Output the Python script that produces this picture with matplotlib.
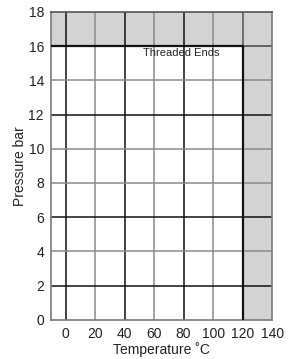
import matplotlib
matplotlib.use('Agg')
import matplotlib.pyplot as plt

plt.rcParams['font.family'] = ['Liberation Sans', 'DejaVu Sans']

# chart data
x_ticks = [0, 20, 40, 60, 80, 100, 120, 140]
y_ticks = [0, 2, 4, 6, 8, 10, 12, 14, 16, 18]
x_limit = 120      # max temperature
y_limit = 16       # max pressure
x_range = (-10, 140)
y_range = (0, 18)
region_label = 'Threaded Ends'

# grid line colours as they appear in the print
x_grid_colors = {0: '#111111', 20: '#8a8a8a', 40: '#111111', 60: '#8a8a8a',
                 80: '#111111', 100: '#8a8a8a'}
y_grid_colors = {2: '#111111', 4: '#8a8a8a', 6: '#111111', 8: '#8a8a8a',
                 10: '#8a8a8a', 12: '#111111', 14: '#8a8a8a'}

fig = plt.figure(figsize=(2.91, 3.59), dpi=100)
ax = fig.add_axes([0.175, 0.109, 0.76, 0.858])

shade = '#d3d3d5'
ax.axhspan(y_limit, y_range[1], color=shade, zorder=0, lw=0)
ax.axvspan(x_limit, x_range[1], color=shade, zorder=0, lw=0)

for xv, c in x_grid_colors.items():
    ax.axvline(xv, color=c, lw=1.1, zorder=1)
for yv, c in y_grid_colors.items():
    ax.axhline(yv, color=c, lw=1.1, zorder=1)
# limit lines carried on through the shaded areas
ax.axhline(y_limit, color='#444444', lw=1.1, zorder=1)
ax.axvline(x_limit, color='#555555', lw=1.1, zorder=1)

# operating limit
ax.plot([x_range[0], x_limit, x_limit], [y_limit, y_limit, y_range[0]],
        color='#111111', lw=1.6, zorder=3)

ax.text(52.5, 15.6, region_label, fontsize=8, ha='left', va='center', color='#222222')

ax.set_xlim(*x_range)
ax.set_ylim(*y_range)
ax.set_xticks(x_ticks)
ax.set_yticks(y_ticks)
ax.tick_params(length=0, labelsize=10, pad=5, colors='#222222')
for s in ax.spines.values():
    s.set_color('#7a7a7a')
    s.set_linewidth(1.2)
ax.spines['top'].set_color('#555555')

ax.set_xlabel('Temperature ˚C', fontsize=10, labelpad=1, color='#222222')
ax.set_ylabel('Pressure bar', fontsize=10, labelpad=1, color='#222222')

fig.savefig('out.png', dpi=100)
